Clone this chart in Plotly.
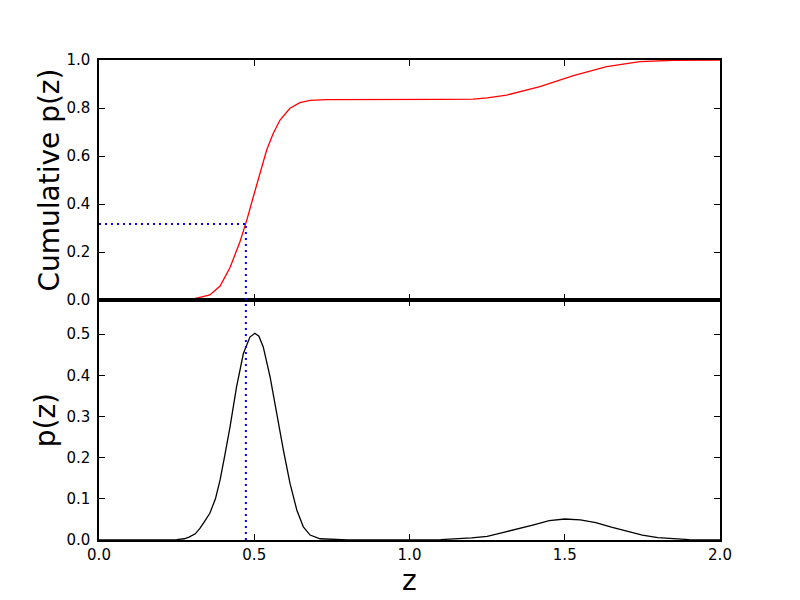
import plotly.graph_objects as go
from plotly.subplots import make_subplots

# ---- data ----
z_pdf = [0.0, 0.1, 0.2, 0.25, 0.275, 0.29, 0.31, 0.325, 0.34, 0.357, 0.375, 0.39, 0.405,
         0.422, 0.443, 0.465, 0.486, 0.502, 0.515, 0.529, 0.551, 0.572, 0.594, 0.615,
         0.637, 0.658, 0.68, 0.712, 0.75, 0.8, 0.9, 1.0, 1.1, 1.2, 1.25, 1.3, 1.35, 1.4,
         1.45, 1.5, 1.55, 1.6, 1.65, 1.7, 1.75, 1.8, 1.85, 1.9, 2.0]
p_pdf = [0.0, 0.0, 0.0, 0.001, 0.003, 0.007, 0.015, 0.028, 0.045, 0.065, 0.1, 0.146, 0.205,
         0.275, 0.372, 0.453, 0.493, 0.502, 0.495, 0.469, 0.396, 0.307, 0.218, 0.138,
         0.073, 0.032, 0.012, 0.003, 0.001, 0.0, 0.0, 0.0, 0.001, 0.005, 0.009, 0.018, 0.027, 0.037,
         0.047, 0.051, 0.049, 0.042, 0.031, 0.021, 0.012, 0.006, 0.003, 0.001, 0.0]

z_cum = [0.0, 0.29, 0.325, 0.357, 0.39, 0.422, 0.454, 0.476, 0.497, 0.519, 0.54, 0.561,
         0.583, 0.615, 0.647, 0.68, 0.733, 1.1, 1.205, 1.25, 1.313, 1.42, 1.528, 1.635,
         1.742, 1.85, 2.0]
p_cum = [0.0, 0.0, 0.011, 0.021, 0.058, 0.135, 0.243, 0.333, 0.43, 0.528, 0.625, 0.694,
         0.75, 0.799, 0.822, 0.832, 0.835, 0.836, 0.837, 0.842, 0.854, 0.889, 0.935, 0.972,
         0.993, 0.999, 1.0]

z_mark = 0.473
cum_mark = 0.317

x_ticks = [0.0, 0.5, 1.0, 1.5, 2.0]
x_ticklabels = ["0.0", "0.5", "1.0", "1.5", "2.0"]
y1_ticks = [0.0, 0.2, 0.4, 0.6, 0.8, 1.0]
y1_ticklabels = ["0.0", "0.2", "0.4", "0.6", "0.8", "1.0"]
y2_ticks = [0.0, 0.1, 0.2, 0.3, 0.4, 0.5]
y2_ticklabels = ["0.0", "0.1", "0.2", "0.3", "0.4", "0.5"]

FONT = "DejaVu Sans"

fig = make_subplots(rows=2, cols=1, shared_xaxes=True, vertical_spacing=0)

fig.add_trace(go.Scatter(x=z_cum, y=p_cum, mode="lines",
                         line=dict(color="#ff0000", width=1.3), showlegend=False),
              row=1, col=1)
fig.add_trace(go.Scatter(x=z_pdf, y=p_pdf, mode="lines",
                         line=dict(color="#000000", width=1.3), showlegend=False),
              row=2, col=1)

dot = dict(color="#0000ff", width=2, dash="2px,4px")
fig.add_shape(type="line", xref="x", yref="y", x0=0, x1=z_mark, y0=cum_mark, y1=cum_mark, line=dot)
fig.add_shape(type="line", xref="x", yref="y", x0=z_mark, x1=z_mark, y0=0, y1=cum_mark, line=dot)
fig.add_shape(type="line", xref="x2", yref="y2 domain", x0=z_mark, x1=z_mark, y0=0, y1=1, line=dot)

axis_common = dict(showline=True, linecolor="black", linewidth=1.5, mirror="ticks",
                   ticks="inside", ticklen=6, tickwidth=1, tickcolor="black",
                   showgrid=False, zeroline=False,
                   tickfont=dict(family=FONT, size=15, color="black"))

fig.update_xaxes(range=[0, 2], tickvals=x_ticks, ticktext=x_ticklabels, **axis_common)
fig.update_xaxes(showticklabels=False, row=1, col=1)
fig.update_yaxes(range=[0, 1], tickvals=y1_ticks, ticktext=y1_ticklabels,
                 ticklabelstandoff=4, row=1, col=1, **axis_common)
fig.update_yaxes(range=[0, 0.583], tickvals=y2_ticks, ticktext=y2_ticklabels,
                 ticklabelstandoff=4, row=2, col=1, **axis_common)

title_font = dict(family=FONT, size=28, color="black")
fig.add_annotation(text="Cumulative p(z)", xref="paper", yref="paper",
                   x=-0.0812, y=0.75, textangle=-90, showarrow=False,
                   xanchor="center", yanchor="middle", font=title_font)
fig.add_annotation(text="p(z)", xref="paper", yref="paper",
                   x=-0.0865, y=0.25, textangle=-90, showarrow=False,
                   xanchor="center", yanchor="middle", font=title_font)
fig.add_annotation(text="z", xref="paper", yref="paper",
                   x=0.5, y=-0.084, showarrow=False, borderpad=0,
                   xanchor="center", yanchor="middle", font=title_font)

# the page body adds an 8px offset; margins compensate so the plot area sits at 99..720 x 60..540
fig.update_layout(width=800, height=600, margin=dict(l=91, r=88, t=52, b=68),
                  paper_bgcolor="white", plot_bgcolor="white",
                  font=dict(family=FONT, color="black"))

fig.write_html("out.html")
